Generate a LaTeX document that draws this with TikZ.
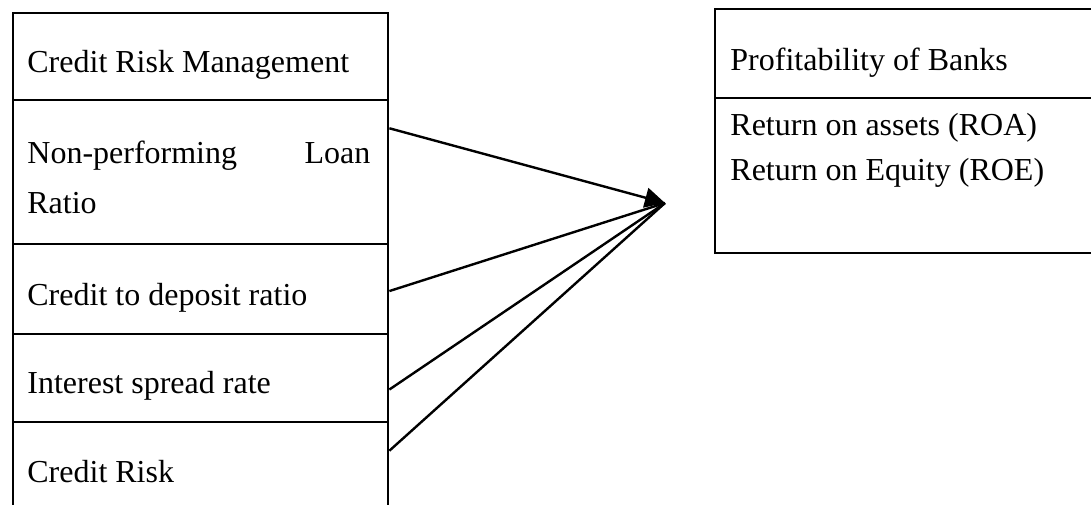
\documentclass[tikz,border=0pt]{standalone}
\usepackage{fontspec}
\setmainfont{Liberation Serif}
\usetikzlibrary{positioning,calc,arrows.meta}

\begin{document}
\begin{tikzpicture}[x=0.5pt, y=-0.5pt,
    cell/.style={draw, line width=1.2pt, inner sep=0pt, anchor=north west},
    txt/.style={anchor=base west, inner sep=0pt, font=\fontsize{16}{25}\selectfont},
    link/.style={line width=1.2pt}]
    \useasboundingbox (0,0) rectangle (1091,504);

    % Caixas da esquerda
    \node[cell, minimum width=187.5pt, minimum height=43.5pt] (crm) at (12,12) {};
    \node[cell, minimum width=187.5pt, minimum height=72pt] (npl) at (12,99) {};
    \node[cell, minimum width=187.5pt, minimum height=45pt] (cdr) at (12,243) {};
    \node[cell, minimum width=187.5pt, minimum height=44pt] (isr) at (12,333) {};
    \node[cell, minimum width=187.5pt, minimum height=50pt] (cr) at (12,421) {};

    \node[txt] (crmtxt) at (27,72) {Credit Risk Management};
    \node[txt, text width=171.5pt, align=flush left] (npltxt) at (27,163) {Non-performing\hfill Loan\\Ratio};
    \node[txt] (cdrtxt) at (27,305) {Credit to deposit ratio};
    \node[txt] (isrtxt) at (27,393) {Interest spread rate};
    \node[txt] (crtxt) at (27,482) {Credit Risk};

    % Caixas da direita
    \node[cell, minimum width=193pt, minimum height=44.5pt] (prof) at (714,8) {};
    \node[cell, minimum width=193pt, minimum height=77.5pt] (ret) at (714,97) {};

    \node[txt] (proftxt) at (730,70) {Profitability of Banks};
    \node[txt, text width=175pt, align=flush left, font=\fontsize{16}{22.5}\selectfont] (rettxt) at (730,135) {Return on assets (ROA)\\Return on Equity (ROE)};

    % Setas
    \coordinate (tip) at (665,203);
    \draw[link, -{Triangle[length=10pt, width=10pt]}] ($(npl.north east)!0.2!(npl.south east)$) -- (tip);
    \draw[link] ($(cdr.north east)!0.52!(cdr.south east)$) -- (tip);
    \draw[link] ($(isr.north east)!0.625!(isr.south east)$) -- (tip);
    \draw[link] ($(cr.north east)!0.29!(cr.south east)$) -- (tip);
\end{tikzpicture}
\end{document}
